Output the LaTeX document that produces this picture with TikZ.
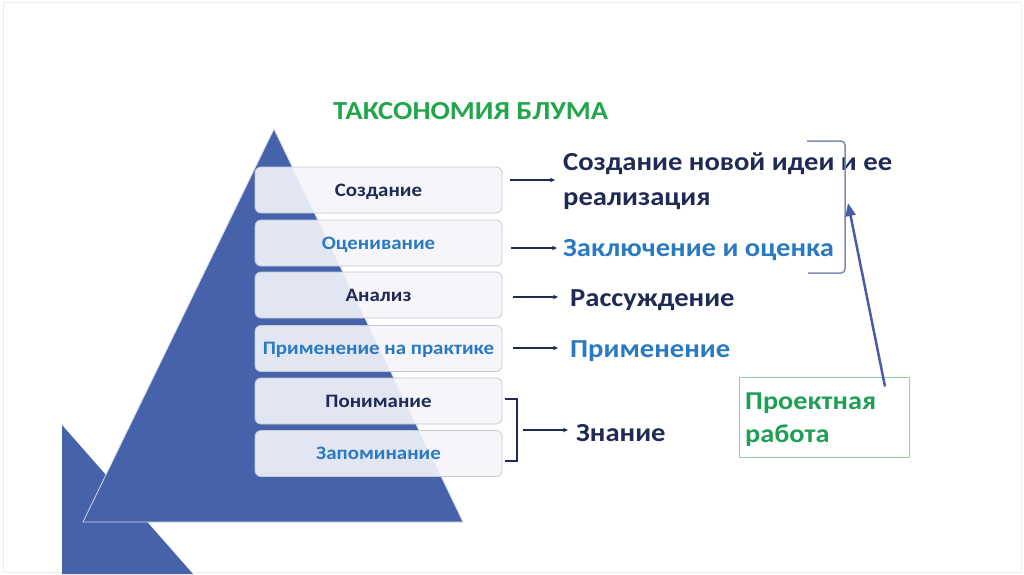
\documentclass[tikz,border=0pt]{standalone}
\usepackage{fontspec}
\setmainfont{Carlito}[FakeStretch=1.1]
\usetikzlibrary{arrows.meta,calc}
\definecolor{tri}{HTML}{4662AA}
\definecolor{navy}{HTML}{1F2A55}
\definecolor{lblue}{HTML}{2A7AC2}
\definecolor{tgreen}{HTML}{22A64C}
\definecolor{pgreen}{HTML}{1F9E55}
\definecolor{pborder}{HTML}{92D1A8}
\definecolor{brk}{HTML}{7E8CB2}
\definecolor{bigarr}{HTML}{4A5CA8}
\definecolor{boxline}{HTML}{C5C9D4}
\definecolor{boxfill}{HTML}{F4F5FA}
\begin{document}
\begin{tikzpicture}[x=1pt,y=-1pt,
  lvl/.style={draw=boxline, line width=0.8pt, fill=boxfill, fill opacity=0.9, text opacity=1,
    rounded corners=6pt, minimum width=247pt, minimum height=46pt, inner sep=0pt,
    font=\bfseries\fontsize{19}{22}\selectfont, text height=12.5pt, text depth=0pt},
  dk/.style={text=navy},
  bl/.style={text=lblue},
  big/.style={anchor=base west, inner sep=0pt, font=\bfseries\fontsize{26}{30}\selectfont},
  arr/.style={draw=navy, line width=1.2pt, -{Stealth[length=5pt,width=4.5pt]}},
]
\useasboundingbox (0,0) rectangle (1024,574);
\fill[white] (0,0) rectangle (1024,574);
\draw[black!7, line width=1pt] (3,2) rectangle (1021,572);

% triangles
\fill[tri] (62,425) -- (62,574) -- (193,574) -- cycle;
\filldraw[fill=tri, draw=white!75!tri, line width=0.8pt] (274,129) -- (463,522) -- (83,522) -- cycle;

% title
\node[anchor=base west, inner sep=0pt, text=tgreen, font=\bfseries\fontsize{26}{30}\selectfont] (title) at (333,119) {ТАКСОНОМИЯ БЛУМА};

% levels
\node[lvl, dk] (b1) at (378.5,190) {Создание};
\node[lvl, bl] (b2) at (378.5,243) {Оценивание};
\node[lvl, dk] (b3) at (378.5,295) {Анализ};
\node[lvl, bl] (b4) at (378.5,348.5) {Применение на практике};
\node[lvl, dk] (b5) at (378.5,401) {Понимание};
\node[lvl, bl] (b6) at (378.5,453.5) {Запоминание};

% right texts
\node[big, text=navy] (t1) at (563,170) {Создание новой идеи и ее};
\node[big, text=navy] (t1b) at (563,205) {реализация};
\node[big, text=lblue] (t2) at (563,256) {Заключение и оценка};
\node[big, text=navy] (t3) at (570,306) {Рассуждение};
\node[big, text=lblue] (t4) at (570,357) {Применение};
\node[big, text=navy] (t5) at (576,441) {Знание};

% arrows
\coordinate (e1) at (555,180);
\coordinate (e2) at (557,248);
\coordinate (e3) at (558,297);
\coordinate (e4) at (558,348);
\draw[arr] (b1.east |- e1) ++(8,0) -- (e1);
\draw[arr] (b2.east |- e2) ++(9,0) -- (e2);
\draw[arr] (b3.east |- e3) ++(11,0) -- (e3);
\draw[arr] (b4.east |- e4) ++(11,0) -- (e4);

% bracket for knowledge
\coordinate (k1) at (505,399);
\coordinate (k2) at (505,461);
\draw[navy, line width=2.2pt] (k1) -- (517,399) -- (517,461) -- (k2);
\coordinate (km) at (517,430);
\coordinate (e5) at (568,430);
\draw[arr] (km) ++(6,0) -- (e5);

% big bracket
\draw[brk, line width=1.5pt, rounded corners=4pt] (807,141) -- (845,141) -- (845,273) -- (808,273);
\coordinate (tip) at (848,203);

% project box
\node[draw=pborder, line width=1pt, minimum width=170pt, minimum height=80pt, inner sep=0pt] (pr) at (824,417) {};
\node[anchor=base west, inner sep=0pt, text=pgreen, font=\bfseries\fontsize{25.7}{30}\selectfont] (prt) at (745,409) {Проектная};
\node[anchor=base west, inner sep=0pt, text=pgreen, font=\bfseries\fontsize{25.7}{30}\selectfont] (prt2) at (745,442) {работа};
\draw[bigarr, line width=2.5pt, -{Triangle[length=13pt,width=10pt]}] ([xshift=61pt,yshift=-10pt]pr.north) -- (tip);
\end{tikzpicture}
\end{document}
